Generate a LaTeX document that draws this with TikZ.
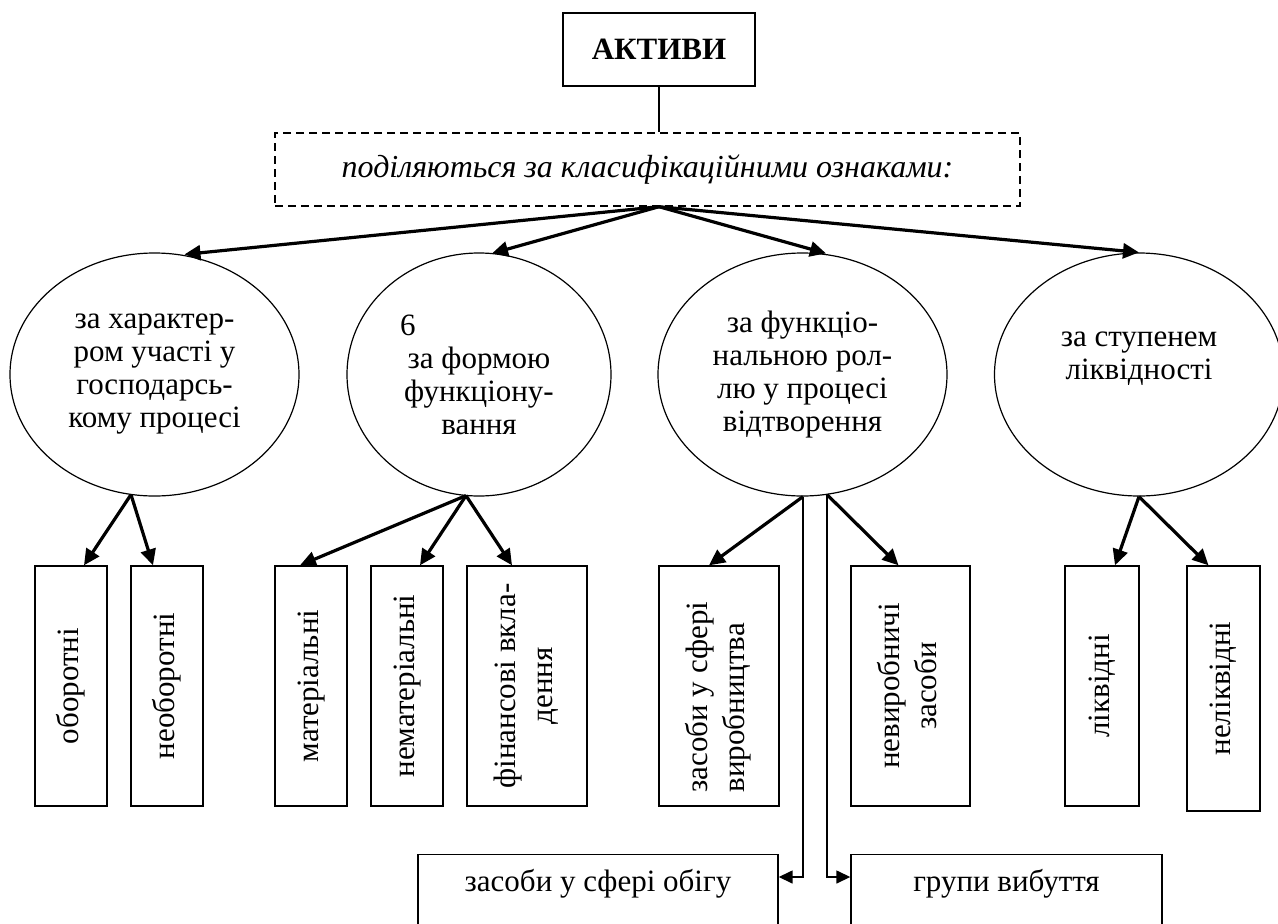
\documentclass[tikz,border=0pt]{standalone}
\usepackage{fontspec}
\setmainfont{Liberation Serif}
\usetikzlibrary{shapes.geometric,arrows.meta,calc}
\newcommand{\vtext}[1]{\rotatebox{90}{\renewcommand{\arraystretch}{1.12}\begin{tabular}{@{}c@{}}#1\end{tabular}}}
\newcommand{\vtextl}[2]{\rotatebox{90}{\renewcommand{\arraystretch}{1.12}\begin{tabular}{@{}l@{}}#1\end{tabular}\hspace*{#2}}}
\begin{document}
\begin{tikzpicture}[x=1pt,y=-1pt,
  every node/.style={font=\fontsize{31}{33}\selectfont},
  box/.style={draw,line width=1.4pt,inner sep=0pt,align=center},
  oval/.style={draw,ellipse,line width=1.2pt,inner sep=0pt,minimum width=289pt,minimum height=243pt,align=center},
  vbox/.style={draw,line width=1.4pt,inner sep=0pt,minimum height=240pt},
  bigarrow/.style={line width=3.2pt,-{Triangle[length=16pt,width=15pt]}},
  stemline/.style={line width=1.5pt},
  elbow/.style={line width=1.5pt,-{Triangle[length=14pt,width=13pt]}},
]
\clip (0,0) rectangle (1278,924);
\fill[white] (0,0) rectangle (1278,924);

% top
\node[box,minimum width=192pt,minimum height=73pt,font=\fontsize{31}{33}\selectfont\bfseries] (akt) at (659,49.5) {АКТИВИ};
\node[box,dash pattern=on 8pt off 5pt,minimum width=745pt,minimum height=73pt,font=\fontsize{32}{34}\selectfont\itshape] (cls) at (647.5,169.5) {поділяються за класифікаційними ознаками:};
\draw[stemline] (akt.south) -- (akt.south |- cls.north);
\coordinate (hub) at (akt.south |- cls.south);

% ellipses
\node[oval] (e1) at (154.5,374.5) {за характер-\\ром участі у\\господарсь-\\кому процесі};
\node[oval,minimum width=264pt] (e2) at (479,374.5) {\makebox[158pt][l]{6}\\за формою\\функціону-\\вання};
\node[oval] (e3) at (802.5,374.5) {за функціо-\\нальною рол-\\лю у процесі\\відтворення};
\node[oval] (e4) at (1139,374.5) {};
\node[align=center] (e4t) at (1139,359) {за ступенем\\ліквідності};

% top arrows
\draw[bigarrow] (hub) -- ($(e1.north)+(30,2)$);
\draw[bigarrow] (hub) -- ($(e2.north)+(13,1)$);
\draw[bigarrow] (hub) -- ($(e3.north)+(23.5,1)$);
\draw[bigarrow] (hub) -- ($(e4.north)+(0,0)$);

% vertical boxes
\node[vbox,minimum width=72pt] (r1) at (71,686) {\vtext{оборотні}};
\node[vbox,minimum width=72pt] (r2) at (167,686) {\vtext{необоротні}};
\node[vbox,minimum width=72pt] (r3) at (311,686) {\vtext{матеріальні}};
\node[vbox,minimum width=72pt] (r4) at (407,686) {\vtext{нематеріальні}};
\node[vbox,minimum width=120pt] (r5) at (527,686) {\vtext{фінансові вкла-\\дення}};
\node[vbox,minimum width=120pt] (r6) at (719,686) {\vtextl{засоби у сфері\\виробництва}{22pt}};
\node[vbox,minimum width=119pt] (r7) at (910.5,686) {\vtext{невиробничі\\засоби}};
\node[vbox,minimum width=74pt] (r8) at (1102,686) {\vtext{ліквідні}};
\node[vbox,minimum width=73pt,minimum height=245pt] (r9) at (1223.5,688.5) {\vtext{неліквідні}};

% bottom arrows
\draw[bigarrow] ($(e1.south)+(-23.5,-2)$) -- ($(r1.north)+(13,0)$);
\draw[bigarrow] ($(e1.south)+(-23.5,-2)$) -- ($(r2.north)+(-14,0)$);
\draw[bigarrow] ($(e2.south)+(-13,-1)$) -- ($(r3.north)+(-11,0)$);
\draw[bigarrow] ($(e2.south)+(-13,-1)$) -- ($(r4.north)+(13,0)$);
\draw[bigarrow] ($(e2.south)+(-13,-1)$) -- ($(r5.north)+(-15,0)$);
\draw[bigarrow] ($(e3.south)+(0.5,0)$) -- ($(r6.north)+(-10,0)$);
\draw[bigarrow] ($(e3.south)+(24.5,-2)$) -- ($(r7.north)+(-12,0)$);
\draw[bigarrow] (e4.south) -- ($(r8.north)+(13,0)$);
\draw[bigarrow] (e4.south) -- ($(r9.north)+(-15,0)$);

% bottom boxes
\node[box,minimum width=360pt,minimum height=120pt,anchor=north] (b1) at (598,854) {};
\node (b1t) at (598,884) {засоби у сфері обігу};
\node[box,minimum width=311pt,minimum height=120pt,anchor=north] (b2) at (1006.5,854) {};
\node (b2t) at (1006.5,884) {групи вибуття};

\draw[elbow] ($(e3.south)+(0.5,0)$) |- ($(b1.north east)+(0,23)$);
\draw[elbow] ($(e3.south)+(24.5,-2)$) |- ($(b2.north west)+(0,23)$);
\end{tikzpicture}
\end{document}
